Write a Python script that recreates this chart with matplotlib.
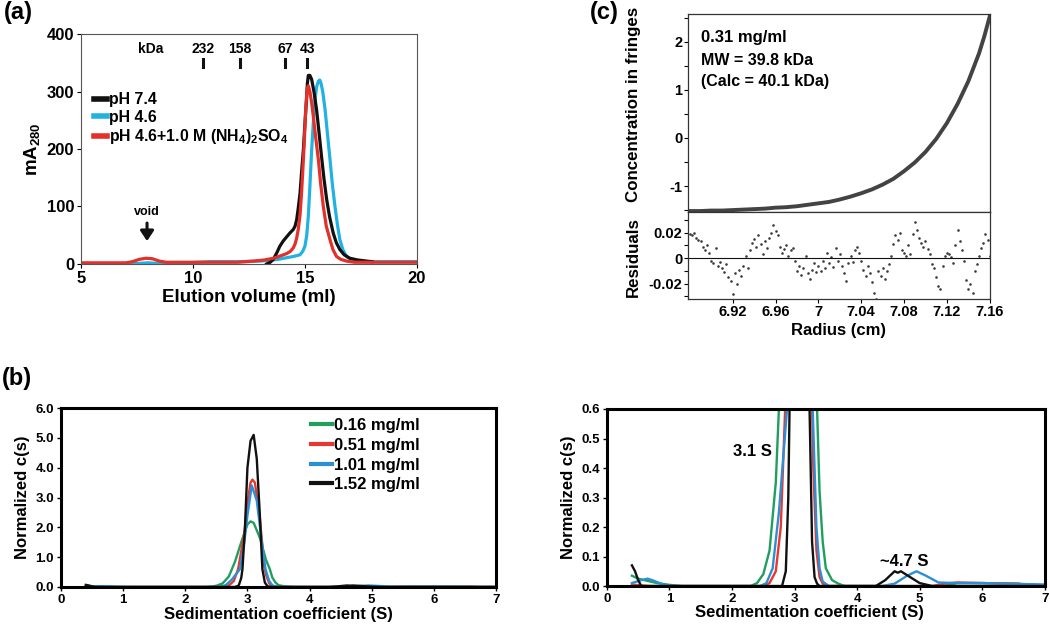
import numpy as np
import matplotlib
matplotlib.use("Agg")
import matplotlib.pyplot as plt
from matplotlib.ticker import MultipleLocator

plt.rcParams['font.family'] = ['Liberation Sans', 'DejaVu Sans']
plt.rcParams['mathtext.fontset'] = 'custom'
plt.rcParams['mathtext.rm'] = 'Liberation Sans:bold'
plt.rcParams['mathtext.bf'] = 'Liberation Sans:bold'
plt.rcParams['mathtext.it'] = 'Liberation Sans:italic'
plt.rcParams['axes.unicode_minus'] = False

# ---- (a) size exclusion chromatography ----
vol_74 = [13.29, 13.45, 13.59, 13.75, 13.88, 14.03, 14.18, 14.33, 14.48, 14.56, 14.63, 14.70, 14.78, 14.85, 14.93,
          15.00, 15.07, 15.11, 15.15, 15.22, 15.30, 15.40, 15.52, 15.63, 15.74, 15.85, 15.97, 16.10, 16.26, 16.40,
          16.56, 16.75, 17.00, 17.35, 17.75, 18.00]
mA_74 = [0, 3, 8, 20, 31, 40, 47, 54, 60, 66, 77, 97, 123, 160, 199, 245, 286, 315, 328, 328, 321, 300, 268, 228,
         187, 148, 112, 82, 54, 37, 25, 16, 10, 7, 5, 4]
vol_46 = [7.2, 7.6, 8.0, 8.4, 8.7, 10.76, 12.0, 13.0, 13.8, 14.2, 14.48, 14.78, 14.90, 15.00, 15.08, 15.15, 15.22,
          15.30, 15.38, 15.45, 15.52, 15.60, 15.66, 15.72, 15.80, 15.90, 16.00, 16.12, 16.22, 16.34, 16.45, 16.56,
          16.70, 16.86, 17.05, 17.30, 17.80, 20.0]
mA_46 = [0, 1, 2, 1, 0, 4, 4, 5, 8, 11, 13, 16, 22, 31, 50, 83, 135, 199, 250, 286, 308, 318, 320, 314, 298, 268,
         228, 181, 140, 100, 68, 42, 24, 13, 8, 5, 4, 4]
vol_salt = [5.0, 7.0, 7.3, 7.6, 7.9, 8.2, 8.5, 8.8, 10.0, 12.0, 12.7, 13.2, 13.6, 13.9, 14.18, 14.35, 14.48, 14.56,
            14.63, 14.70, 14.78, 14.85, 14.90, 14.96, 15.04, 15.10, 15.15, 15.22, 15.30, 15.37, 15.48, 15.60, 15.70,
            15.82, 15.95, 16.12, 16.25, 16.41, 16.60, 16.86, 17.20, 20.0]
mA_salt = [2, 2, 4, 8, 10, 9, 5, 3, 3, 3, 5, 7, 10, 14, 18, 22, 28, 35, 45, 60, 85, 125, 160, 205, 274, 305, 310,
           300, 280, 258, 220, 181, 140, 100, 66, 42, 25, 13, 8, 5, 3, 3]
marker_vol = [10.45, 12.1, 14.1, 15.1]
marker_kda = ['232', '158', '67', '43']

# ---- (b) c(s) distributions ----
s_016 = [0.40, 0.50, 0.60, 0.80, 1.00, 1.20, 2.30, 2.40, 2.50, 2.60, 2.70, 2.75, 2.80, 2.90, 3.00, 3.05, 3.10, 3.20,
         3.30, 3.36, 3.40, 3.45, 3.50, 3.60, 3.70, 3.80, 5.40, 5.60, 6.00, 6.60, 6.65]
c_016 = [0.035, 0.025, 0.020, 0.010, 0.004, 0.0, 0.0, 0.010, 0.040, 0.120, 0.350, 0.600, 0.850, 1.500, 2.100, 2.200,
         2.150, 1.650, 0.900, 0.600, 0.320, 0.150, 0.060, 0.020, 0.008, 0.0, 0.0, 0.010, 0.010, 0.008, 0.0]
s_051 = [0.40, 0.50, 0.70, 2.50, 2.60, 2.70, 2.78, 2.85, 2.95, 3.00, 3.05, 3.08, 3.12, 3.20, 3.27, 3.30, 3.35, 3.40,
         3.45, 3.50, 5.20, 5.40, 5.60, 6.00, 6.50, 7.00]
c_051 = [0.005, 0.003, 0.0, 0.0, 0.010, 0.050, 0.200, 0.600, 1.800, 2.800, 3.500, 3.600, 3.500, 2.300, 0.700, 0.400,
         0.120, 0.030, 0.008, 0.0, 0.0, 0.008, 0.012, 0.010, 0.008, 0.003]
s_101 = [0.40, 0.55, 0.65, 0.75, 0.90, 1.00, 2.45, 2.55, 2.65, 2.75, 2.88, 2.95, 3.00, 3.07, 3.15, 3.22, 3.29, 3.35,
         3.40, 3.45, 3.55, 4.40, 4.60, 4.80, 4.95, 5.10, 5.30, 5.60, 6.00, 7.00]
c_101 = [0.010, 0.020, 0.025, 0.018, 0.005, 0.0, 0.0, 0.010, 0.060, 0.250, 0.600, 1.500, 2.400, 3.400, 2.900, 1.700,
         0.600, 0.200, 0.060, 0.015, 0.0, 0.0, 0.008, 0.035, 0.050, 0.035, 0.012, 0.010, 0.010, 0.005]
s_152 = [0.40, 0.45, 0.50, 0.55, 2.80, 2.86, 2.90, 2.92, 2.96, 3.00, 3.05, 3.10, 3.15, 3.20, 3.24, 3.28, 3.32, 3.36,
         3.40, 4.30, 4.45, 4.60, 4.65, 4.70, 4.85, 5.00, 5.20, 7.00]
c_152 = [0.070, 0.050, 0.020, 0.0, 0.0, 0.050, 0.300, 0.600, 2.000, 4.000, 4.900, 5.100, 4.300, 2.400, 0.600, 0.150,
         0.030, 0.008, 0.0, 0.0, 0.020, 0.050, 0.045, 0.050, 0.030, 0.010, 0.0, 0.0]
conc_labels = ['0.16 mg/ml', '0.51 mg/ml', '1.01 mg/ml', '1.52 mg/ml']

# ---- (c) sedimentation equilibrium ----
radius = [6.878, 6.89, 6.90, 6.91, 6.92, 6.93, 6.94, 6.95, 6.96, 6.97, 6.98, 6.99, 7.00, 7.01, 7.02, 7.03, 7.04,
          7.05, 7.06, 7.07, 7.08, 7.09, 7.10, 7.11, 7.12, 7.13, 7.14, 7.15, 7.155, 7.16]
fringes = [-1.52, -1.52, -1.51, -1.51, -1.50, -1.49, -1.48, -1.47, -1.45, -1.44, -1.42, -1.39, -1.36, -1.33, -1.28,
           -1.22, -1.15, -1.07, -0.97, -0.85, -0.69, -0.51, -0.29, -0.02, 0.31, 0.71, 1.18, 1.76, 2.12, 2.53]
resid = [0.019, 0.018, 0.020, 0.016, 0.014, 0.013, 0.009, 0.006, 0.010, 0.004,
         -0.002, -0.004, 0.008, -0.006, -0.003, -0.008, -0.011, -0.005, -0.015, -0.018,
         -0.028, -0.012, -0.020, -0.009, -0.014, -0.006, 0.002, -0.008, 0.006, 0.012,
         0.015, 0.009, 0.018, 0.011, 0.003, 0.013, 0.008, 0.016, 0.020, 0.026,
         0.021, 0.018, 0.009, 0.004, 0.007, 0.010, 0.002, 0.006, 0.008, -0.002,
         -0.010, -0.006, -0.013, -0.008, 0.002, -0.012, -0.016, -0.009, -0.004, -0.011,
         -0.006, -0.010, -0.002, -0.008, 0.004, -0.004, 0.001, -0.007, 0.008, -0.002,
         0.003, -0.006, -0.012, -0.018, -0.004, 0.002, -0.003, 0.006, 0.009, 0.004,
         -0.002, -0.009, -0.014, -0.006, -0.012, -0.019, -0.027, -0.032, -0.010, -0.014,
         -0.008, -0.016, -0.010, -0.005, 0.002, 0.011, 0.018, 0.014, 0.020, 0.006,
         0.004, 0.002, 0.010, 0.003, 0.019, 0.028, 0.022, 0.016, 0.012, 0.009,
         0.013, 0.007, 0.003, -0.005, -0.008, -0.015, -0.022, -0.024, -0.006, 0.002,
         0.004, 0.003, 0.001, -0.004, 0.010, 0.022, 0.013, 0.006, -0.002, -0.017,
         -0.024, -0.020, -0.027, -0.010, -0.005, 0.002, 0.008, 0.012, 0.019, 0.014,
         0.002]
resid_r = np.linspace(6.880, 7.160, len(resid))

fig = plt.figure(figsize=(10.5, 6.3), dpi=100)


def bold_ticks(a):
    for t in a.get_xticklabels() + a.get_yticklabels():
        t.set_fontweight('bold')


# ================= panel (a) =================
ax = fig.add_axes([0.0771, 0.581, 0.32, 0.365])
ax.plot(vol_46, mA_46, color='#22b2e2', lw=2.3)
ax.plot(vol_74, mA_74, color='#111111', lw=2.3)
ax.plot(vol_salt, mA_salt, color='#e2302a', lw=2.3)
ax.set_xlim(5, 20)
ax.set_ylim(0, 400)
ax.set_xticks([5, 10, 15, 20])
ax.set_yticks([0, 100, 200, 300, 400])
ax.tick_params(labelsize=12, length=3, width=0.8, pad=2)
bold_ticks(ax)
for sp in ax.spines.values():
    sp.set_color('#555555')
    sp.set_linewidth(0.8)
ax.set_xlabel('Elution volume (ml)', fontsize=13.5, fontweight='bold', labelpad=2)
ax.set_ylabel(r'mA$_{280}$', fontsize=13.5, fontweight='bold', labelpad=3)
ax.text(8.1, 374, 'kDa', fontsize=10, fontweight='bold', ha='center', va='center')
for v, k in zip(marker_vol, marker_kda):
    ax.text(v, 374, k, fontsize=10, fontweight='bold', ha='center', va='center')
    ax.plot([v, v], [342, 357], color='#111111', lw=2.2)
ax.text(7.95, 90, 'void', fontsize=9, fontweight='bold', ha='center', va='center')
ax.annotate('', xy=(7.95, 35), xytext=(7.95, 76),
            arrowprops=dict(arrowstyle='-|>,head_width=0.4,head_length=0.6', color='#111111', lw=2.2))
hl = [plt.Line2D([], [], color=c, lw=4) for c in ['#111111', '#22b2e2', '#e2302a']]
ax.legend(hl, ['pH 7.4', 'pH 4.6', r'pH 4.6+1.0 M (NH$_4$)$_2$SO$_4$'],
          loc='upper left', bbox_to_anchor=(0.02, 0.775), frameon=False, handlelength=0.8,
          handletextpad=0.15, labelspacing=0.16, prop={'size': 11.4, 'weight': 'bold'}, borderaxespad=0)
fig.text(0.004, 0.998, '(a)', fontsize=17, fontweight='bold', va='top')

# ================= panel (c) =================
axc = fig.add_axes([0.655, 0.6635, 0.2876, 0.3143])
axc.plot(radius, fringes, color='#222222', lw=2.8, alpha=0.85)
axc.set_xlim(6.878, 7.16)
axc.set_ylim(-1.54, 2.58)
axc.set_yticks([-1, 0, 1, 2])
axc.yaxis.set_minor_locator(MultipleLocator(0.5))
axc.set_xticks([])
axc.tick_params(labelsize=10.5, length=3, width=0.8, pad=1)
axc.tick_params(which='minor', length=3, width=0.8)
bold_ticks(axc)
axc.set_ylabel('Concentration in fringes', fontsize=12.2, fontweight='bold')
axc.yaxis.set_label_coords(-0.155, 0.545)
axc.text(0.045, 0.86, '0.31 mg/ml', transform=axc.transAxes, fontsize=12, fontweight='bold')
axc.text(0.045, 0.74, 'MW = 39.8 kDa', transform=axc.transAxes, fontsize=11.5, fontweight='bold')
axc.text(0.045, 0.635, '(Calc = 40.1 kDa)', transform=axc.transAxes, fontsize=11.5, fontweight='bold')

axr = fig.add_axes([0.655, 0.5254, 0.2876, 0.138])
axr.scatter(resid_r, resid, s=3.5, color='#3a3a3a', lw=0)
axr.axhline(0, color='#111111', lw=0.8)
axr.set_xlim(6.878, 7.16)
axr.set_ylim(-0.032, 0.036)
axr.set_yticks([-0.02, 0, 0.02])
axr.set_yticklabels(['-0.02', '0', '0.02'])
axr.yaxis.set_minor_locator(MultipleLocator(0.01))
axr.set_xticks([6.92, 6.96, 7.0, 7.04, 7.08, 7.12, 7.16])
axr.set_xticklabels(['6.92', '6.96', '7', '7.04', '7.08', '7.12', '7.16'])
axr.tick_params(labelsize=10.5, length=3, width=0.8, pad=1)
axr.tick_params(which='minor', length=3, width=0.8)
bold_ticks(axr)
axr.set_ylabel('Residuals', fontsize=12.2, fontweight='bold')
axr.yaxis.set_label_coords(-0.155, 0.48)
axr.set_xlabel('Radius (cm)', fontsize=12, fontweight='bold', labelpad=3)
for a in (axc, axr):
    for sp in a.spines.values():
        sp.set_color('#333333')
        sp.set_linewidth(0.9)
fig.text(0.562, 0.998, '(c)', fontsize=17, fontweight='bold', va='top')

# ================= panel (b) =================
series = [(s_016, c_016, '#1f9e5e'), (s_051, c_051, '#e6382f'),
          (s_101, c_101, '#2b8fd6'), (s_152, c_152, '#111111')]
fig.text(0.002, 0.418, '(b)', fontsize=17, fontweight='bold', va='top')

axb1 = fig.add_axes([0.0581, 0.0683, 0.4143, 0.284])
axb2 = fig.add_axes([0.578, 0.0698, 0.417, 0.281])
for a, ymax in ((axb1, 6.0), (axb2, 0.6)):
    for (s, c, col), lab in zip(series, conc_labels):
        a.plot(s, c, color=col, lw=1.7, label=lab)
    a.set_xlim(0, 7)
    a.set_ylim(0, ymax)
    a.set_xticks(range(8))
    a.tick_params(labelsize=9.5, length=3, width=1, pad=2)
    for sp in a.spines.values():
        sp.set_linewidth(2.2)
    a.set_xlabel('Sedimentation coefficient (S)', fontsize=12, fontweight='bold', labelpad=1)
    a.set_ylabel('Normalized c(s)', fontsize=12, fontweight='bold', labelpad=4)
axb2.xaxis.set_label_coords(0.463, -0.105)
axb1.set_yticks(np.arange(0, 6.1, 1.0))
axb1.set_yticklabels(['%.1f' % v for v in np.arange(0, 6.1, 1.0)])
axb2.set_yticks(np.arange(0, 0.61, 0.1))
axb2.set_yticklabels(['%.1f' % v for v in np.arange(0, 0.61, 0.1)])
bold_ticks(axb1)
bold_ticks(axb2)
hb = [plt.Line2D([], [], color=col, lw=3) for _, _, col in series]
axb1.legend(hb, conc_labels, loc='upper left', bbox_to_anchor=(0.56, 0.98), frameon=False,
            handlelength=1.25, handletextpad=0.1, labelspacing=0.28,
            prop={'size': 12, 'weight': 'bold'}, borderaxespad=0)
axb2.text(2.33, 0.455, '3.1 S', fontsize=12, fontweight='bold', ha='center', va='center')
axb2.text(4.75, 0.083, '~4.7 S', fontsize=12, fontweight='bold', ha='center', va='center')

fig.savefig('out.png', dpi=100)
